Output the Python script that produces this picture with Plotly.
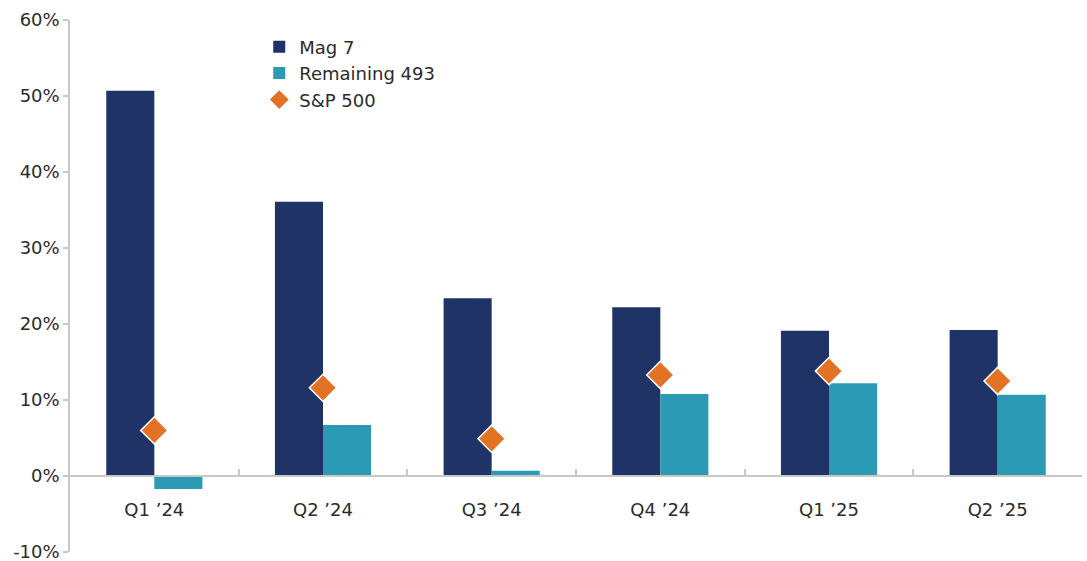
import plotly.graph_objects as go

categories = ["Q1 ’24", "Q2 ’24", "Q3 ’24", "Q4 ’24", "Q1 ’25", "Q2 ’25"]
mag7 = [50.7, 36.1, 23.4, 22.2, 19.1, 19.2]
remaining493 = [-1.7, 6.7, 0.7, 10.8, 12.2, 10.7]
sp500 = [6.0, 11.6, 4.9, 13.3, 13.8, 12.5]
y_ticks = [-10, 0, 10, 20, 30, 40, 50, 60]
y_tick_labels = [f"{v}%" for v in y_ticks]

NAVY = "#1f3366"
TEAL = "#2c9ab5"
ORANGE = "#e37324"
TEXT = "#2b2b2b"
FONT = "DejaVu Sans"

fig = go.Figure()
fig.add_trace(go.Bar(x=categories, y=mag7, name="Mag 7", marker_color=NAVY,
                     marker_line_width=0))
fig.add_trace(go.Bar(x=categories, y=remaining493, name="Remaining 493",
                     marker_color=TEAL, marker_line_width=0))
fig.add_trace(go.Scatter(x=categories, y=sp500, name="S&P 500", mode="markers",
                         marker=dict(symbol="diamond", size=21, color=ORANGE,
                                     line=dict(color="white", width=1.5))))

fig.update_layout(
    width=1087, height=561,
    margin=dict(l=70, r=5, t=20, b=9, autoexpand=False),
    paper_bgcolor="white", plot_bgcolor="white",
    font=dict(family=FONT, size=18, color=TEXT),
    barmode="group", bargap=0.43, bargroupgap=0,
    showlegend=True,
    legend=dict(x=0.187, y=0.984, xanchor="left", yanchor="top",
                bgcolor="rgba(0,0,0,0)", font=dict(size=18, color=TEXT),
                tracegroupgap=0),
    xaxis=dict(
        anchor="free", position=1/7, automargin=False,
        showline=True, linecolor="#c8c8c8", linewidth=1.5,
        ticks="inside", tickson="boundaries", ticklen=6, tickcolor="#c8c8c8",
        tickwidth=1.5, showgrid=False, zeroline=False,
        ticklabelstandoff=18,
        tickfont=dict(size=18, color=TEXT),
    ),
    yaxis=dict(
        range=[-10, 60], tickvals=y_ticks, ticktext=y_tick_labels,
        automargin=False, ticklabeloverflow="allow",
        showline=True, linecolor="#c8c8c8", linewidth=1.5,
        ticks="outside", ticklen=5, tickcolor="#c8c8c8", tickwidth=1.5,
        showgrid=False, zeroline=False,
        tickfont=dict(size=18, color=TEXT),
    ),
)

fig.write_html(
    "out.html",
    config={"displayModeBar": False},
    post_script="document.body.style.margin='0';document.body.style.overflow='hidden';",
)
